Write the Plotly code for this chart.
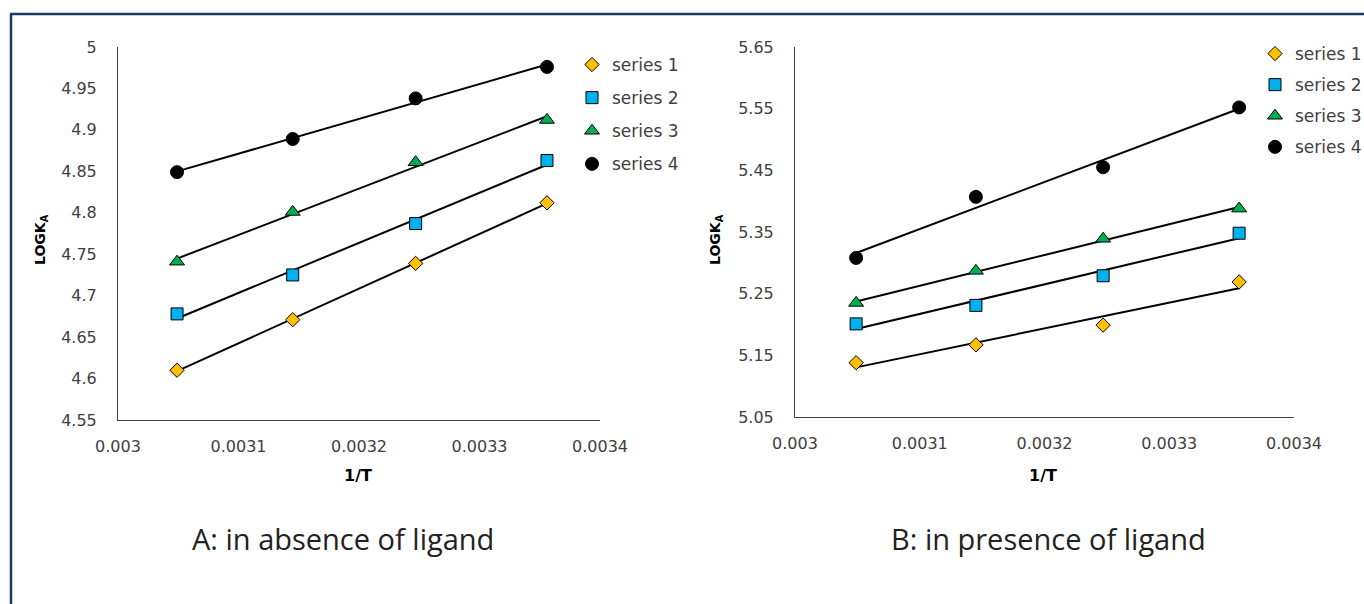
import numpy as np
import plotly.graph_objects as go

# ---------------- data ----------------
inv_T = [0.003049, 0.003145, 0.003247, 0.003356]   # 1/T

series_names = ["series 1", "series 2", "series 3", "series 4"]

# A: in absence of ligand
A_s1 = [4.610, 4.671, 4.739, 4.812]
A_s2 = [4.678, 4.725, 4.787, 4.863]
A_s3 = [4.741, 4.801, 4.861, 4.912]
A_s4 = [4.849, 4.889, 4.938, 4.976]

# B: in presence of ligand
B_s1 = [5.138, 5.167, 5.199, 5.269]
B_s2 = [5.201, 5.231, 5.279, 5.348]
B_s3 = [5.235, 5.287, 5.339, 5.388]
B_s4 = [5.308, 5.407, 5.455, 5.552]

A_ticks_y = [4.55, 4.6, 4.65, 4.7, 4.75, 4.8, 4.85, 4.9, 4.95, 5]
B_ticks_y = [5.05, 5.15, 5.25, 5.35, 5.45, 5.55, 5.65]
x_ticks = [0.003, 0.0031, 0.0032, 0.0033, 0.0034]
x_ticktext = ["0.003", "0.0031", "0.0032", "0.0033", "0.0034"]

# ---------------- styles ----------------
symbols = ["diamond", "square", "triangle-up", "circle"]
colors = ["#FFC000", "#00B0F0", "#00B050", "#000000"]
sizes = [11, 12, 13, 13]

W, H = 1364, 604
TFONT = "DejaVu Sans"
CFONT = "Open Sans"
AX = "#404040"

fig = go.Figure()

def add_panel(data, xa, ya, legend, tag):
    x = np.array(inv_T)
    for i, ys in enumerate(data):
        ys = np.array(ys)
        k, b = np.polyfit(x, ys, 1)
        fig.add_trace(go.Scatter(
            x=[x[0], x[-1]], y=[k * x[0] + b, k * x[-1] + b],
            mode="lines", line=dict(color="black", width=2),
            xaxis=xa, yaxis=ya, showlegend=False, hoverinfo="skip"))
    for i, ys in enumerate(data):
        fig.add_trace(go.Scatter(
            x=inv_T, y=ys, mode="markers", name=series_names[i],
            legendgroup=f"{tag}{i}",
            marker=dict(symbol=symbols[i], color=colors[i], size=sizes[i],
                        line=dict(color="black", width=1)),
            xaxis=xa, yaxis=ya, legend=legend))

add_panel([A_s1, A_s2, A_s3, A_s4], "x", "y", "legend", "A")
add_panel([B_s1, B_s2, B_s3, B_s4], "x2", "y2", "legend2", "B")

# window pixel -> paper fraction
def px(v):
    return v / W

def py(v):
    return 1 - v / H

xcommon = dict(range=[0.003, 0.0034], tickvals=x_ticks, ticktext=x_ticktext,
               showgrid=False, zeroline=False, showline=True, linecolor=AX,
               linewidth=1, ticks="", ticklabelstandoff=12, automargin=False,
               tickfont=dict(family=TFONT, size=16, color=AX))
ycommon = dict(showgrid=False, zeroline=False, showline=True, linecolor=AX,
               linewidth=1, ticks="", ticklabelstandoff=17, automargin=False,
               tickfont=dict(family=TFONT, size=16, color=AX))

legfont = dict(family=TFONT, size=17, color=AX)
fig.update_layout(
    width=W, height=H,
    margin=dict(l=0, r=0, t=0, b=0, pad=0, autoexpand=False),
    paper_bgcolor="white", plot_bgcolor="white",
    xaxis=dict(domain=[px(118), px(600)], anchor="y", **xcommon),
    yaxis=dict(domain=[py(420), py(47)], anchor="x", range=[4.55, 5],
               tickvals=A_ticks_y, ticktext=[f"{v:g}" for v in A_ticks_y], **ycommon),
    xaxis2=dict(domain=[px(795), px(1294)], anchor="y2", **xcommon),
    yaxis2=dict(domain=[py(417), py(47)], anchor="x2", range=[5.05, 5.65],
                tickvals=B_ticks_y, ticktext=[f"{v:g}" for v in B_ticks_y], **ycommon),
    legend=dict(x=px(572), y=py(47), xanchor="left", yanchor="top",
                bgcolor="rgba(0,0,0,0)", tracegroupgap=8, itemwidth=30,
                font=legfont),
    legend2=dict(x=px(1255), y=py(36), xanchor="left", yanchor="top",
                 bgcolor="rgba(0,0,0,0)", tracegroupgap=6, itemwidth=30,
                 font=legfont),
    showlegend=True,
)

annotations = [
    dict(text="<b>LOGK<sub>A</sub></b>", x=px(41), y=py(240), textangle=-90, size=14),
    dict(text="<b>LOGK<sub>A</sub></b>", x=px(716), y=py(240), textangle=-90, size=14),
    dict(text="<b>1/T</b>", x=px(358), y=py(475), size=16),
    dict(text="<b>1/T</b>", x=px(1043), y=py(475), size=16),
]
for a in annotations:
    s = a.pop("size")
    fig.add_annotation(xref="paper", yref="paper", xanchor="center", yanchor="middle",
                       showarrow=False, font=dict(family=TFONT, size=s, color="black"), **a)

fig.add_annotation(text="A: in absence of ligand", x=px(343), y=py(538),
                   xref="paper", yref="paper", xanchor="center", yanchor="middle",
                   showarrow=False, font=dict(family=CFONT, size=29, color="#222222"))
fig.add_annotation(text="B: in presence of ligand", x=px(1048), y=py(538),
                   xref="paper", yref="paper", xanchor="center", yanchor="middle",
                   showarrow=False, font=dict(family=CFONT, size=29, color="#222222"))

# frame
fig.add_shape(type="line", xref="paper", yref="paper", x0=px(10), x1=1, y0=py(14), y1=py(14),
              line=dict(color="#1F3864", width=2.5))
fig.add_shape(type="line", xref="paper", yref="paper", x0=px(11), x1=px(11), y0=py(14), y1=0,
              line=dict(color="#1F3864", width=2.5))

fig.write_html("out.html")
